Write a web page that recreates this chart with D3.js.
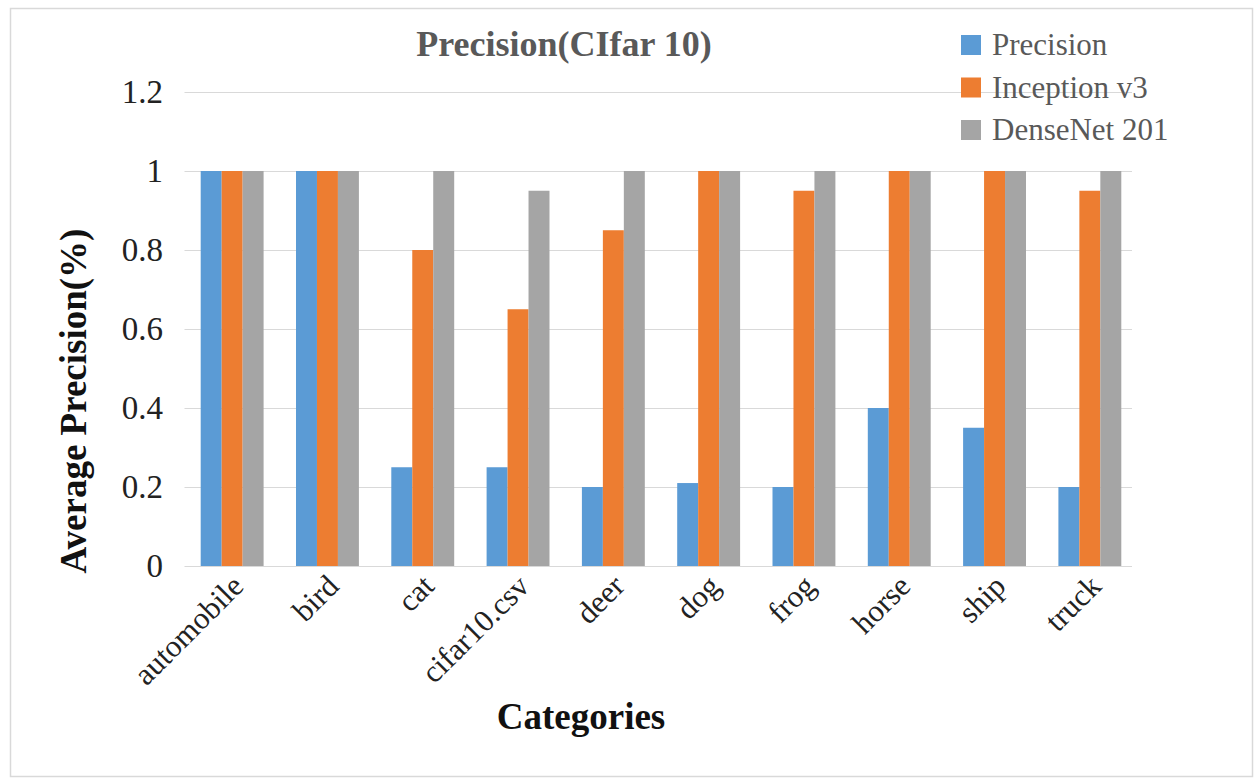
<!DOCTYPE html>
<html>
<head>
<meta charset="utf-8">
<script src="https://cdn.jsdelivr.net/npm/d3@7"></script>
<style>
  html, body { margin: 0; padding: 0; background: #fff; }
  svg { display: block; }
</style>
</head>
<body>
<svg id="chart" width="1255" height="779"></svg>
<script>
// Per-class precision on CIFAR-10 for three approaches
const categories = ["automobile", "bird", "cat", "cifar10.csv", "deer", "dog", "frog", "horse", "ship", "truck"];
const seriesNames = ["Precision", "Inception v3", "DenseNet 201"];
const precisionValues = [1, 1, 0.25, 0.25, 0.2, 0.21, 0.2, 0.4, 0.35, 0.2];
const inceptionValues = [1, 1, 0.8, 0.65, 0.85, 1, 0.95, 1, 1, 0.95];
const densenetValues  = [1, 1, 1, 0.95, 1, 1, 1, 1, 1, 1];
const yTicks = [0, 0.2, 0.4, 0.6, 0.8, 1, 1.2];
const yTickLabels = ["0", "0.2", "0.4", "0.6", "0.8", "1", "1.2"];

const seriesValues = [precisionValues, inceptionValues, densenetValues];
const colors = ["#5B9BD5", "#ED7D31", "#A5A5A5"];

const svg = d3.select("#chart");
const serif = "'Liberation Serif', 'Times New Roman', serif";

// Outer frame
svg.append("rect")
  .attr("x", 10.5).attr("y", 8.5)
  .attr("width", 1242).attr("height", 768)
  .attr("fill", "#fff").attr("stroke", "#d9d9d9").attr("stroke-width", 1.5);

const plot = { left: 184.5, right: 1137.5, top: 92, bottom: 566 };

const x = d3.scaleBand()
  .domain(categories)
  .range([plot.left, plot.right])
  .paddingInner(0.34)
  .paddingOuter(0.17);

const xSub = d3.scaleBand()
  .domain(d3.range(seriesNames.length))
  .range([0, x.bandwidth()]);

const y = d3.scaleLinear().domain([0, 1.2]).range([plot.bottom, plot.top]);

// Gridlines
svg.append("g")
  .selectAll("line")
  .data(yTicks)
  .join("line")
  .attr("x1", plot.left).attr("x2", 1132)
  .attr("y1", d => Math.round(y(d)) + 0.5).attr("y2", d => Math.round(y(d)) + 0.5)
  .attr("stroke", "#d9d9d9").attr("stroke-width", 1.2);

// Y axis labels
const yAxis = d3.axisLeft(y)
  .tickValues(yTicks)
  .tickFormat((d, i) => yTickLabels[i])
  .tickSize(0)
  .tickPadding(0);
const yg = svg.append("g").attr("transform", `translate(${163},0)`).call(yAxis);
yg.select(".domain").remove();
yg.selectAll("text")
  .attr("font-family", serif).attr("font-size", 33).attr("fill", "#222");

// Bars
const groups = svg.append("g")
  .selectAll("g")
  .data(categories)
  .join("g")
  .attr("transform", d => `translate(${x(d)},0)`);

groups.selectAll("rect")
  .data((c, ci) => seriesValues.map((vals, si) => ({ si, v: vals[ci] })))
  .join("rect")
  .attr("x", d => xSub(d.si))
  .attr("width", xSub.bandwidth())
  .attr("y", d => y(d.v))
  .attr("height", d => y(0) - y(d.v))
  .attr("fill", d => colors[d.si]);

// X axis category labels, rotated
const xAxis = d3.axisBottom(x).tickSize(0).tickPadding(0);
const xg = svg.append("g").attr("transform", `translate(0,${plot.bottom})`).call(xAxis);
xg.select(".domain").remove();
xg.selectAll("text")
  .attr("font-family", serif).attr("font-size", 31).attr("fill", "#222")
  .attr("text-anchor", "end")
  .attr("dy", 0)
  .attr("transform", "translate(13,22) rotate(-45)");

// Title
svg.append("text")
  .attr("x", 564).attr("y", 56)
  .attr("text-anchor", "middle")
  .attr("font-family", serif).attr("font-size", 36).attr("font-weight", "bold")
  .attr("fill", "#595959")
  .text("Precision(CIfar 10)");

// Axis titles
svg.append("text")
  .attr("transform", `translate(86,${401}) rotate(-90)`)
  .attr("text-anchor", "middle")
  .attr("font-family", serif).attr("font-size", 37).attr("font-weight", "bold")
  .attr("fill", "#111")
  .text("Average Precision(%)");

svg.append("text")
  .attr("x", 581).attr("y", 729)
  .attr("text-anchor", "middle")
  .attr("font-family", serif).attr("font-size", 37).attr("font-weight", "bold")
  .attr("fill", "#111")
  .text("Categories");

// Legend
const legend = svg.append("g")
  .selectAll("g")
  .data(seriesNames)
  .join("g")
  .attr("transform", (d, i) => `translate(961,${35 + i * 42.5})`);
legend.append("rect")
  .attr("width", 20).attr("height", 20)
  .attr("fill", (d, i) => colors[i]);
legend.append("text")
  .attr("x", 31).attr("y", 20)
  .attr("font-family", serif).attr("font-size", 31)
  .attr("fill", "#595959")
  .text(d => d);
</script>
</body>
</html>
